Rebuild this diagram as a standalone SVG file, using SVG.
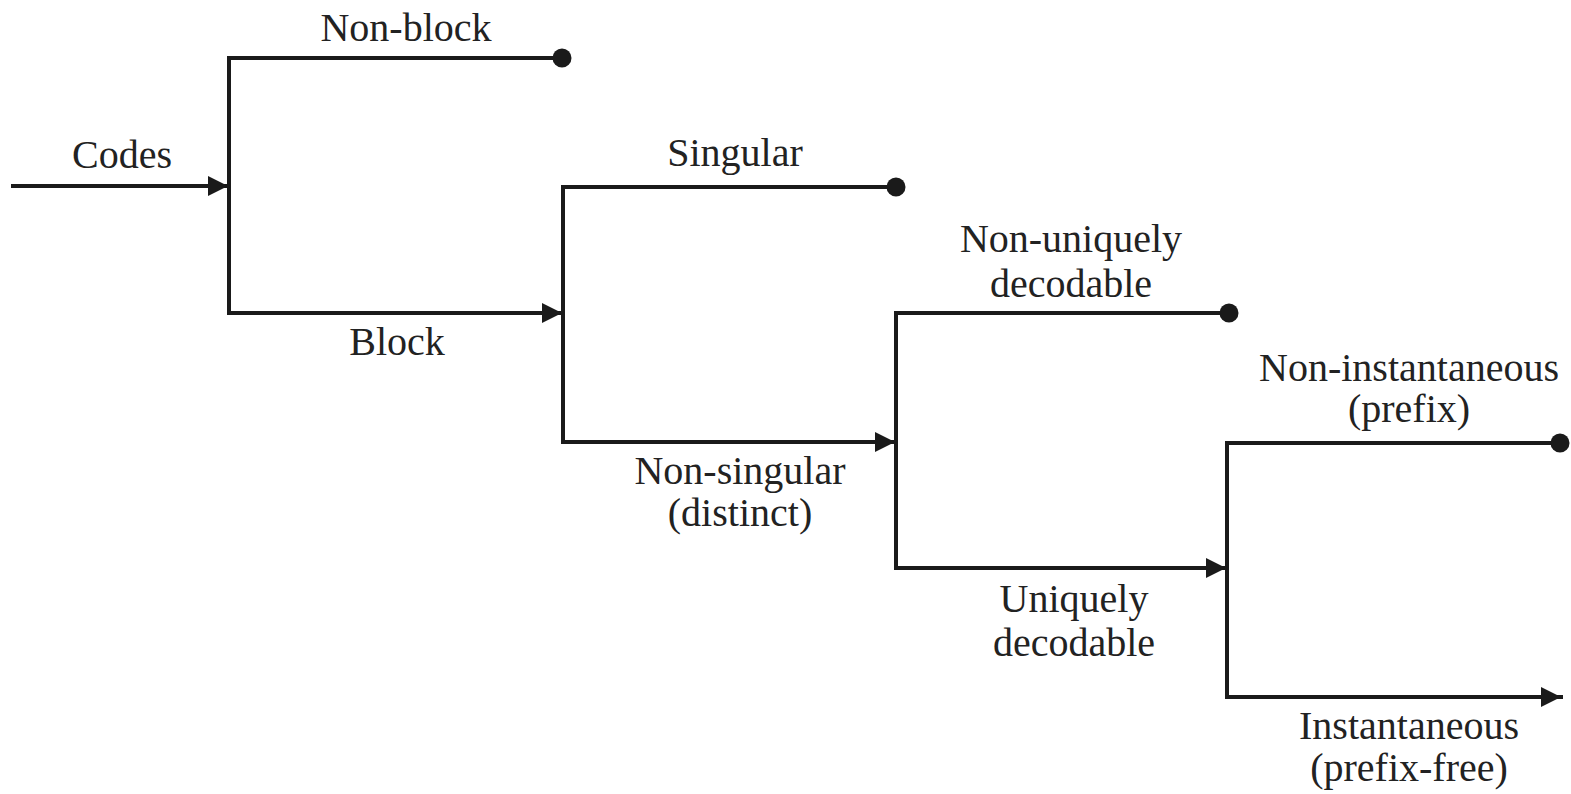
<svg xmlns="http://www.w3.org/2000/svg" width="1571" height="794" viewBox="0 0 1571 794">
  <style>
    .ln { stroke: #1a1a1a; stroke-width: 4; fill: none; stroke-linecap: square; }
    .dot { fill: #1a1a1a; }
    .lbl { font-family: "Liberation Serif", "Times New Roman", serif; font-size: 40px; fill: #222; text-anchor: middle; }
  </style>
  <defs>
    <marker id="arr" markerUnits="userSpaceOnUse" markerWidth="20" markerHeight="20" refX="20" refY="10" orient="auto">
      <path d="M0,0 L20,10 L0,20 z" fill="#1a1a1a"/>
    </marker>
  </defs>
  <rect width="1571" height="794" fill="#ffffff"/>
  <g id="connectors">
    <line class="ln" x1="13" y1="186" x2="228" y2="186" marker-end="url(#arr)"/>
    <line class="ln" x1="229" y1="58" x2="229" y2="313"/>
    <line class="ln" x1="229" y1="58" x2="562" y2="58"/>
    <line class="ln" x1="229" y1="313" x2="562" y2="313" marker-end="url(#arr)"/>
    <line class="ln" x1="563" y1="187" x2="563" y2="442"/>
    <line class="ln" x1="563" y1="187" x2="896" y2="187"/>
    <line class="ln" x1="563" y1="442" x2="895" y2="442" marker-end="url(#arr)"/>
    <line class="ln" x1="896" y1="313" x2="896" y2="568"/>
    <line class="ln" x1="896" y1="313" x2="1229" y2="313"/>
    <line class="ln" x1="896" y1="568" x2="1226" y2="568" marker-end="url(#arr)"/>
    <line class="ln" x1="1227" y1="443" x2="1227" y2="697"/>
    <line class="ln" x1="1227" y1="443" x2="1560" y2="443"/>
    <line class="ln" x1="1227" y1="697" x2="1561" y2="697" marker-end="url(#arr)"/>
    <circle class="dot" cx="562" cy="58" r="9.5"/>
    <circle class="dot" cx="896" cy="187" r="9.5"/>
    <circle class="dot" cx="1229" cy="313" r="9.5"/>
    <circle class="dot" cx="1560" cy="443" r="9.5"/>
  </g>
  <g id="codes"><text class="lbl" x="122" y="168">Codes</text></g>
  <g id="non-block"><text class="lbl" x="406" y="41">Non-block</text></g>
  <g id="block"><text class="lbl" x="397" y="355">Block</text></g>
  <g id="singular"><text class="lbl" x="735" y="166">Singular</text></g>
  <g id="non-singular"><text class="lbl" x="740" y="484">Non-singular</text><text class="lbl" x="740" y="526">(distinct)</text></g>
  <g id="non-uniquely-decodable"><text class="lbl" x="1071" y="252">Non-uniquely</text><text class="lbl" x="1071" y="297">decodable</text></g>
  <g id="uniquely-decodable"><text class="lbl" x="1074" y="612">Uniquely</text><text class="lbl" x="1074" y="656">decodable</text></g>
  <g id="non-instantaneous"><text class="lbl" x="1409" y="381">Non-instantaneous</text><text class="lbl" x="1409" y="422">(prefix)</text></g>
  <g id="instantaneous"><text class="lbl" x="1409" y="739">Instantaneous</text><text class="lbl" x="1409" y="781">(prefix-free)</text></g>
</svg>
